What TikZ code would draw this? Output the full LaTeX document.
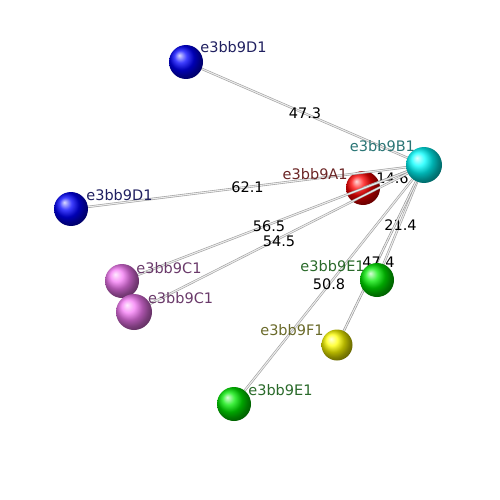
\documentclass[tikz,border=0pt]{standalone}
\usepackage{fontspec}
\setmainfont{DejaVu Sans}
\usetikzlibrary{backgrounds}
\pgfdeclarelayer{behind}
\pgfsetlayers{behind,background,main}
\definecolor{labD}{RGB}{32,32,96}
\definecolor{labB}{RGB}{42,117,117}
\definecolor{labA}{RGB}{107,37,37}
\definecolor{labC}{RGB}{106,58,106}
\definecolor{labE}{RGB}{42,106,42}
\definecolor{labF}{RGB}{106,106,42}
\definecolor{atomC}{RGB}{245,120,245}
\definecolor{atomE}{RGB}{0,235,0}
\tikzset{atom/.style = {circle, inner sep=0pt, minimum size=34pt},
         bond/.style = {draw=gray!75, double=gray!15, double distance=1.1pt, line width=0.6pt},
         dist/.style = {font=\fontsize{14.5}{16}\selectfont, text=black, inner sep=1pt},
         lab/.style  = {font=\fontsize{14.5}{16}\selectfont, inner sep=0pt}}
\begin{document}
\begin{tikzpicture}[x=1pt, y=-1pt]
				\useasboundingbox (0,0) rectangle (500,500);
				\node [atom, ball color=blue] (D1a) at (186, 62) {};
				\node [atom, ball color=blue] (D1b) at (71, 209) {};
				\node [atom, ball color=atomC] (C1a) at (122, 281) {};
				\node [atom, ball color=atomC, minimum size=36pt] (C1b) at (134, 312) {};
				\node [atom, ball color=atomE] (E1a) at (377, 280) {};
				\node [atom, ball color=yellow, minimum size=31pt] (F1) at (337, 345) {};
				\node [atom, ball color=atomE] (E1b) at (234, 404) {};
				\node [atom, ball color=cyan, minimum size=36pt] (B1) at (424, 165) {};
				\begin{pgfonlayer}{behind}
				\node [atom, ball color=red] (A1) at (363, 188) {};
				\end{pgfonlayer}
				% bonds from the cyan atom
				\begin{pgfonlayer}{background}
				\draw [bond] (B1.center) to node [dist] {47.3} (D1a.center);
				\draw [bond] (B1.center) to node [dist] {62.1} (D1b.center);
				\draw [bond] (B1.center) to node [dist, xshift=-1pt, yshift=-2pt] {14.6} (A1.center);
				\draw [bond] (B1.center) to node [dist, xshift=-4pt, yshift=-3pt] {56.5} (C1a.center);
				\draw [bond] (B1.center) to node [dist, yshift=-3pt] {54.5} (C1b.center);
				\draw [bond] (B1.center) to node [dist, yshift=-3pt] {21.4} (E1a.center);
				\draw [bond, draw=gray!85] (B1.center) to node [dist, xshift=-2pt, yshift=-7pt] {47.4} (F1.center);
				\draw [bond] (B1.center) to node [dist] {50.8} (E1b.center);
				\end{pgfonlayer}
				% atom names
				\node [lab, text=labD, anchor=west] (nD1a) at ([xshift=2pt, yshift=3pt]D1a.north east) {e3bb9D1};
				\node [lab, text=labD, anchor=west] (nD1b) at ([xshift=3pt, yshift=2pt]D1b.north east) {e3bb9D1};
				\node [lab, text=labB, anchor=east] (nB1) at ([xshift=4pt, yshift=6pt]B1.north west) {e3bb9B1};
				\node [lab, text=labA, anchor=east] (nA1) at ([xshift=-3pt, yshift=2pt]A1.north west) {e3bb9A1};
				\node [lab, text=labC, anchor=west] (nC1a) at ([xshift=2pt, yshift=1pt]C1a.north east) {e3bb9C1};
				\node [lab, text=labC, anchor=west] (nC1b) at ([xshift=1pt, yshift=1pt]C1b.north east) {e3bb9C1};
				\node [lab, text=labE, anchor=east] (nE1a) at ([yshift=2pt]E1a.north west) {e3bb9E1};
				\node [lab, text=labE, anchor=west] (nE1b) at ([xshift=2pt, yshift=2pt]E1b.north east) {e3bb9E1};
				\node [lab, text=labF, anchor=east] (nF1) at ([xshift=-2pt, yshift=4pt]F1.north west) {e3bb9F1};
		\end{tikzpicture}
\end{document}
